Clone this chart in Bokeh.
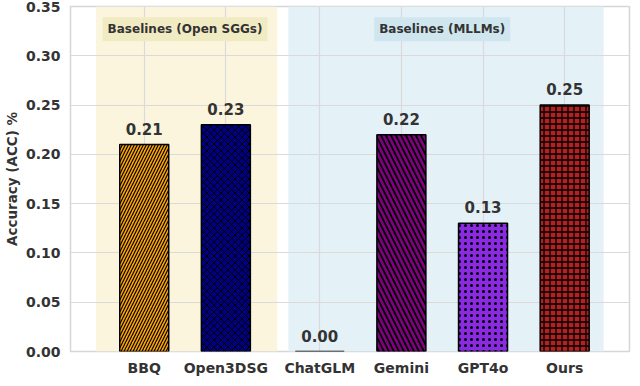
from bokeh.plotting import figure
from bokeh.models import (Range1d, FixedTicker, PrintfTickFormatter, BoxAnnotation,
                          Label, LabelSet, ColumnDataSource)
from bokeh.core.properties import value
from bokeh.embed import file_html
from bokeh.resources import INLINE

# ---- data ----
categories = ["BBQ", "Open3DSG", "ChatGLM", "Gemini", "GPT4o", "Ours"]
accuracy = [0.21, 0.23, 0.00, 0.22, 0.13, 0.25]
group_of = [0, 0, 1, 1, 1, 1]
group_names = ["Baselines (Open SGGs)", "Baselines (MLLMs)"]
y_ticks = [0.00, 0.05, 0.10, 0.15, 0.20, 0.25, 0.30, 0.35]

# ---- styles ----
fills = ["#FFA500", "#000080", "#a9a9a9", "#800080", "#8A2BE2", "#B22222"]
hatches = ["/", "x", " ", "\\", ".", "+"]
hatch_scales = [6, 7, 6, 10, 6, 6]
hatch_weights = [1.2, 1.0, 1.0, 1.8, 2.5, 1.3]
group_gap = 0.15
xs = [i + group_gap * g for i, g in enumerate(group_of)]

FONT = "DejaVu Sans"
TXT = "#333333"

p = figure(width=632, height=378, output_backend="svg", toolbar_location=None,
           x_range=Range1d(-0.903, 5.944), y_range=Range1d(0, 0.35),
           min_border_left=62, min_border_right=3, min_border_top=6,
           min_border_bottom=20)

# shaded group regions
p.add_layout(BoxAnnotation(left=-0.59, right=1.63, fill_color="#faf5dc",
                           fill_alpha=1.0, line_color=None, level="image"))
p.add_layout(BoxAnnotation(left=1.766, right=5.627, fill_color="#e4f1f7",
                           fill_alpha=1.0, line_color=None, level="image"))

src = ColumnDataSource(dict(x=xs, top=accuracy, fill=fills, hatch=hatches,
                            hs=hatch_scales, hw=hatch_weights,
                            lab=["%.2f" % v for v in accuracy]))
p.vbar(x="x", top="top", width=0.6, bottom=0, source=src, fill_color="fill",
       line_color="black", line_width=1.5, hatch_pattern="hatch",
       hatch_color="black", hatch_scale="hs", hatch_weight="hw")

p.add_layout(LabelSet(x="x", y="top", text="lab", source=src, y_offset=10,
                      text_align="center", text_baseline="bottom",
                      text_font=value(FONT), text_font_style="bold",
                      text_font_size="15px", text_color=TXT))

# group labels
group_centers = []
for g in range(len(group_names)):
    gx = [x for x, gg in zip(xs, group_of) if gg == g]
    group_centers.append((min(gx) + max(gx)) / 2)
box_colors = ["#f1ebc4", "#cfe6ee"]
for name, cx, bc in zip(group_names, group_centers, box_colors):
    p.add_layout(Label(x=cx, y=0.327, text=name, text_align="center",
                       text_baseline="middle", text_font=FONT,
                       text_font_style="bold", text_font_size="12px",
                       text_color=TXT, background_fill_color=bc,
                       background_fill_alpha=1.0, padding=5))

# axes
p.xaxis.ticker = FixedTicker(ticks=xs)
p.xaxis.major_label_overrides = {x: c for x, c in zip(xs, categories)}
p.yaxis.ticker = FixedTicker(ticks=y_ticks)
p.yaxis.formatter = PrintfTickFormatter(format="%.2f")
p.yaxis.axis_label = "Accuracy (ACC) %"
for ax in (p.xaxis, p.yaxis):
    ax.axis_line_color = None
    ax.major_tick_line_color = None
    ax.minor_tick_line_color = None
    ax.major_tick_out = 0
    ax.major_tick_in = 0
    ax.minor_tick_out = 0
    ax.minor_tick_in = 0
    ax.major_label_text_font = FONT
    ax.major_label_text_font_style = "bold"
    ax.major_label_text_font_size = "14px"
    ax.major_label_text_color = TXT
p.xaxis.major_label_standoff = 8
p.yaxis.major_label_standoff = 10
p.yaxis.axis_label_standoff = 3
p.yaxis.axis_label_text_font = FONT
p.yaxis.axis_label_text_font_style = "bold"
p.yaxis.axis_label_text_font_size = "13.5px"
p.yaxis.axis_label_text_color = TXT

p.xgrid.ticker = FixedTicker(ticks=xs)
p.ygrid.ticker = FixedTicker(ticks=y_ticks)
p.grid.grid_line_color = "#dadada"
p.grid.grid_line_width = 1.2
p.outline_line_color = "#d6d6d6"
p.outline_line_width = 1.5
p.background_fill_color = "white"
p.border_fill_color = "white"

open("out.html", "w").write(file_html(p, INLINE))
